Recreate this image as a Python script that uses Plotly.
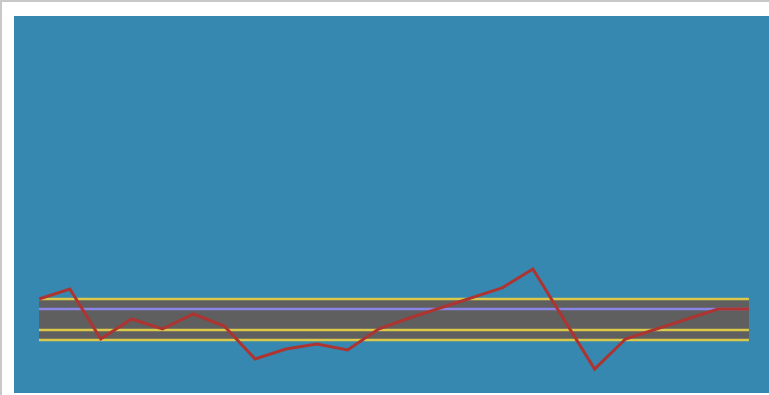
import plotly.graph_objs as go

# sample index and measured values
samples = list(range(24))
values = [9.4, 10.4, 5.4, 7.4, 6.4, 7.9, 6.7, 3.4, 4.4, 4.9, 4.3, 6.4,
          7.5, 8.5, 9.5, 10.5, 12.4, 7.4, 2.4, 5.4, 6.4, 7.4, 8.4, 8.4]

# control limits
center = 8.4
ucl = 9.4
warn_low = 6.3
lcl = 5.3

W, H = 769, 395
ML, MT, MR, MB = 14, 16, 0, 2

fig = go.Figure()

# gray band between the limits
fig.add_trace(go.Scatter(
    x=[samples[0], samples[-1]], y=[lcl, lcl],
    mode='lines', line=dict(color='rgba(0,0,0,0)', width=0),
    showlegend=False, hoverinfo='skip'
))
fig.add_trace(go.Scatter(
    x=[samples[0], samples[-1]], y=[ucl, ucl],
    mode='lines', line=dict(color='rgba(0,0,0,0)', width=0),
    fill='tonexty', fillcolor='#5f5f5f',
    showlegend=False, hoverinfo='skip'
))

# limit lines
for lim in [ucl, warn_low, lcl]:
    fig.add_trace(go.Scatter(
        x=[samples[0], samples[-1]], y=[lim, lim],
        mode='lines', line=dict(color='#d9c84a', width=2.5),
        showlegend=False, hoverinfo='skip'
    ))

fig.add_trace(go.Scatter(
    x=[samples[0], samples[-1]], y=[center, center],
    mode='lines', line=dict(color='#8a84e6', width=2.5),
    showlegend=False, hoverinfo='skip'
))

# measurements
fig.add_trace(go.Scatter(
    x=samples, y=values,
    mode='lines', line=dict(color='#ad3430', width=3),
    showlegend=False
))

pw = W - ML - MR
ph = H - MT - MB

# outer frame (top and left edges)
fig.add_shape(type='line', xref='paper', yref='paper',
              x0=-ML / pw, x1=1, y0=1 + (MT - 1) / ph, y1=1 + (MT - 1) / ph,
              line=dict(color='#c8c8c8', width=2))
fig.add_shape(type='line', xref='paper', yref='paper',
              x0=-(ML - 1) / pw, x1=-(ML - 1) / pw, y0=-MB / ph, y1=1 + MT / ph,
              line=dict(color='#c8c8c8', width=2))

fig.update_layout(
    width=W, height=H,
    margin=dict(l=ML, r=MR, t=MT, b=MB),
    paper_bgcolor='white',
    plot_bgcolor='#3688b0',
    xaxis=dict(range=[-0.81, 23.65], visible=False, showgrid=False, zeroline=False),
    yaxis=dict(range=[0, 37.7], visible=False, showgrid=False, zeroline=False),
)

# page without the default body margin
fig.write_html("out.html", config={'displayModeBar': False},
               post_script="document.body.style.margin='0';")
